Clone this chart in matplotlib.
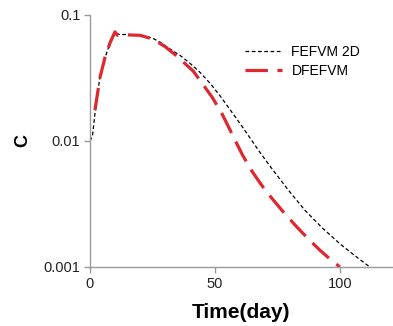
import matplotlib
matplotlib.use('Agg')
import matplotlib.pyplot as plt

plt.rcParams['font.family'] = ['Liberation Sans', 'DejaVu Sans']

# FEFVM 2D (black dotted)
t_fefvm = [0, 1, 2, 3, 4, 6, 8, 10, 12, 15, 20, 25, 28, 32, 36, 40, 44, 48, 52, 56, 60, 64, 68, 73,
           79, 86, 93, 100, 106, 112, 113]
c_fefvm = [0.0100, 0.0110, 0.0166, 0.024, 0.032, 0.0457, 0.0596, 0.0715, 0.0700, 0.0700, 0.0690,
           0.0655, 0.0610, 0.0537, 0.0479, 0.0414, 0.0351, 0.0288, 0.0229, 0.0178, 0.0138, 0.0106,
           0.00813, 0.00596, 0.00417, 0.00282, 0.00204, 0.00153, 0.00123, 0.00100, 0.00097]

# DFEFVM (red dashed)
t_dfefvm = [2, 4, 6, 8, 10, 11, 15, 20, 25, 30, 34.7, 38, 41.3, 45, 49, 53, 57, 61, 65, 69, 73, 77,
            82, 87, 92, 96, 100]
c_dfefvm = [0.0176, 0.032, 0.046, 0.060, 0.0735, 0.0690, 0.0695, 0.0690, 0.0646, 0.0562, 0.0473,
            0.0412, 0.0359, 0.0285, 0.0221, 0.0162, 0.0112, 0.00776, 0.00569, 0.00437, 0.00347,
            0.00279, 0.00216, 0.00170, 0.00136, 0.00116, 0.00100]

xticks = [0, 50, 100]
yticks = [0.001, 0.01, 0.1]
ylabels = ['0.001', '0.01', '0.1']

fig = plt.figure(figsize=(3.93, 3.26), dpi=100)
ax = fig.add_axes([0.229, 0.181, 0.768, 0.773])

ax.plot(t_fefvm, c_fefvm, color='black', lw=0.9, dashes=(3, 2), label='FEFVM 2D')
ax.plot(t_dfefvm, c_dfefvm, color='#e0262e', lw=2.3, dashes=(7, 3), label='DFEFVM')

ax.set_yscale('log')
ax.set_xlim(0, 120.8)
ax.set_ylim(0.001, 0.1)
ax.set_xticks(xticks)
ax.set_yticks(yticks, labels=ylabels)
ax.minorticks_off()

for s in ['top', 'right']:
    ax.spines[s].set_visible(False)
for s in ['left', 'bottom']:
    ax.spines[s].set_color('#999999')
    ax.spines[s].set_linewidth(1.0)
ax.tick_params(direction='out', length=4, width=1.0, color='#999999', labelsize=10.5,
               labelcolor='#222222', pad=3)

ax.set_xlabel('Time(day)', fontsize=15, fontweight='bold', labelpad=9)
ax.set_ylabel('C', fontsize=13, fontweight='bold', labelpad=8.5)

fig.legend(loc='center left', bbox_to_anchor=(0.609, 0.811), bbox_transform=fig.transFigure,
           frameon=False, fontsize=10, handlelength=2.7, handletextpad=0.65, labelspacing=0.35,
           borderaxespad=0)

fig.savefig('out.png', dpi=100)
